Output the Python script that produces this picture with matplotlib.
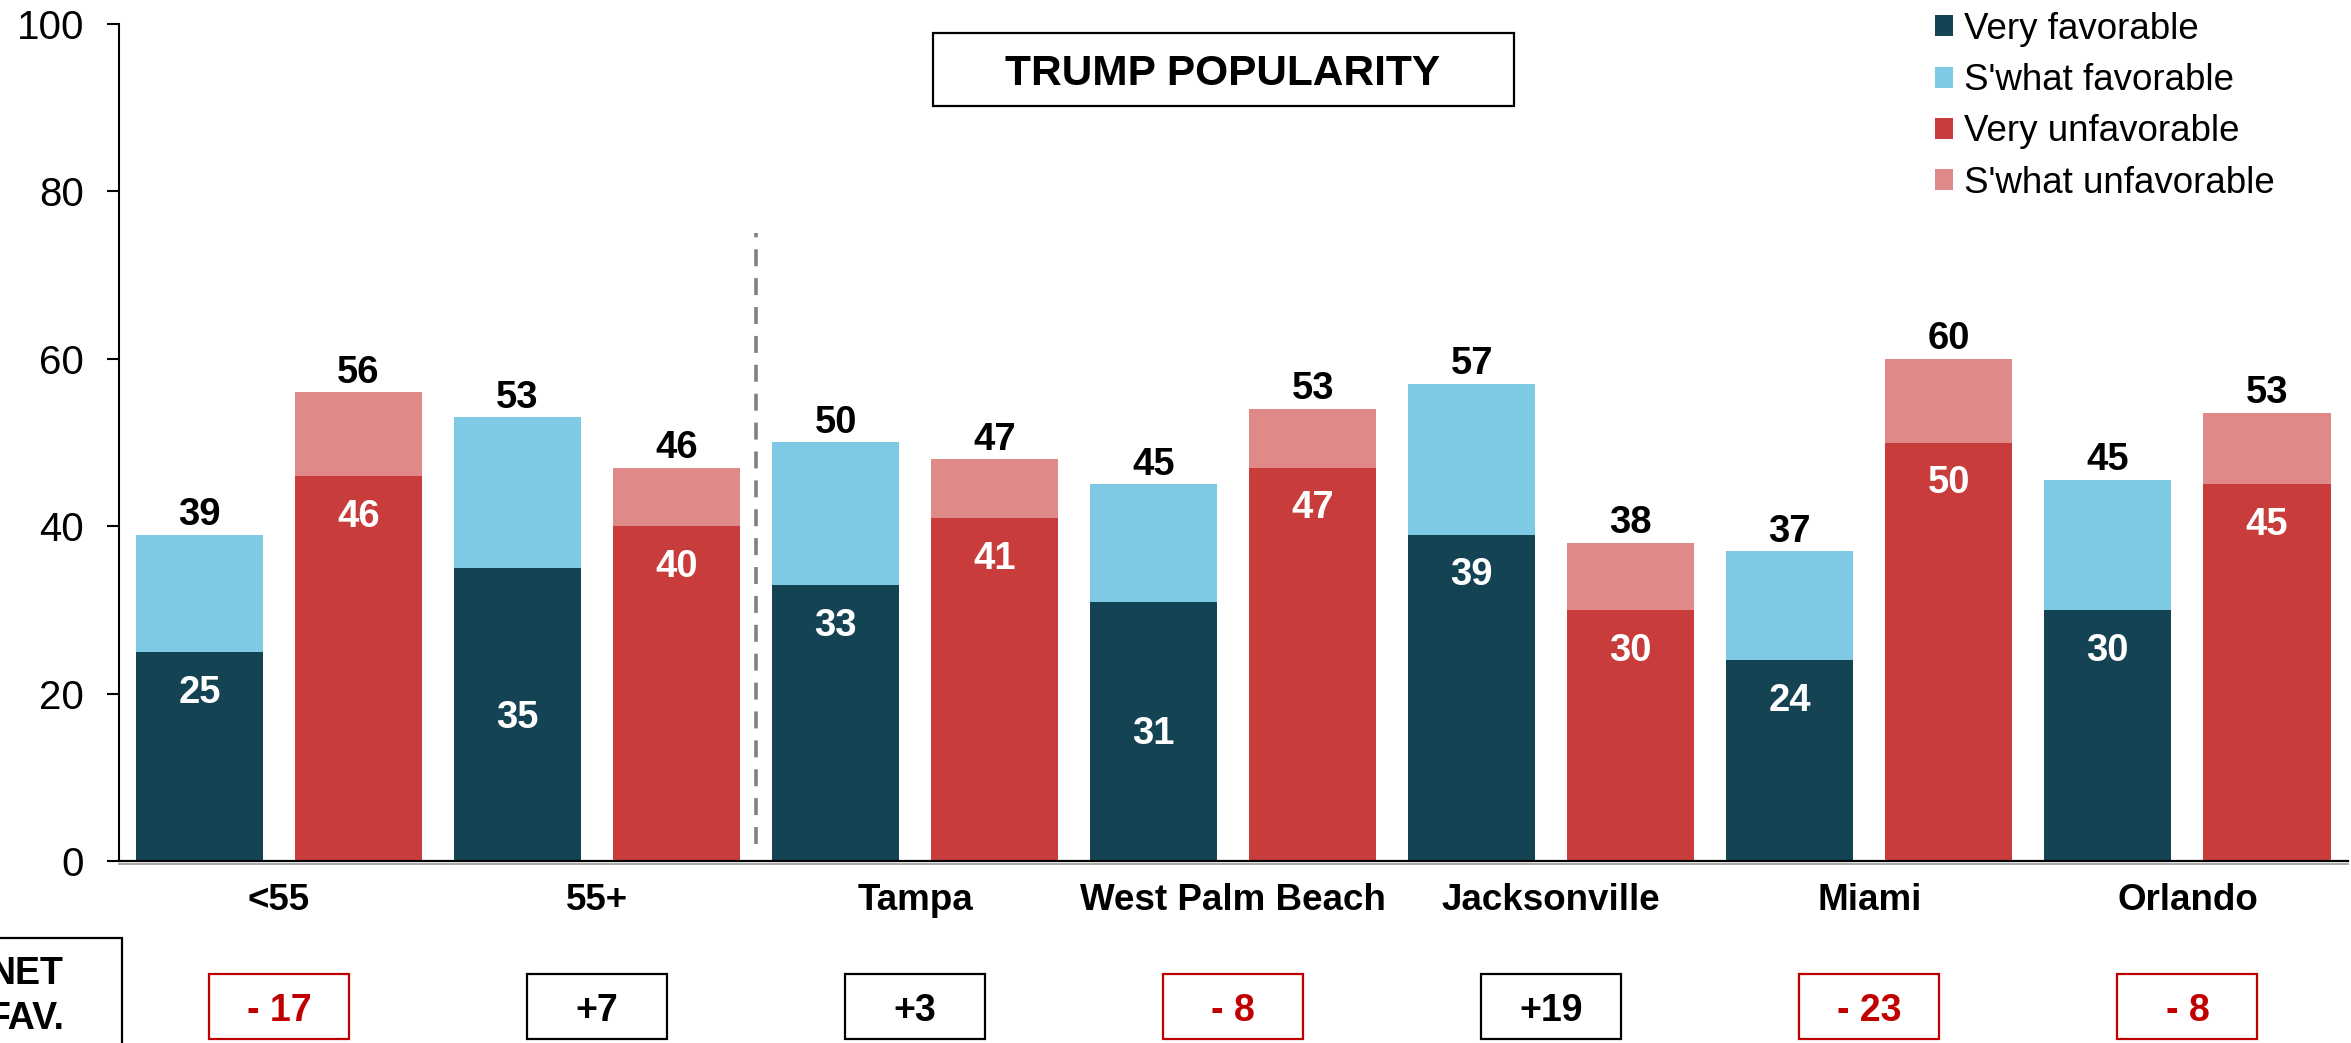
import matplotlib
matplotlib.use('Agg')
import matplotlib.pyplot as plt
from matplotlib.patches import Rectangle
from matplotlib.transforms import blended_transform_factory
import numpy as np

plt.rcParams['font.family'] = ['Liberation Sans', 'DejaVu Sans']

# ---------------- data ----------------
categories = ['<55', '55+', 'Tampa', 'West Palm Beach', 'Jacksonville', 'Miami', 'Orlando']
very_fav = [25, 35, 33, 31, 39, 24, 30]
swhat_fav = [14, 18, 17, 14, 18, 13, 15.5]
very_unfav = [46, 40, 41, 47, 30, 50, 45]
swhat_unfav = [10, 7, 7, 7, 8, 10, 8.5]
fav_total_labels = [39, 53, 50, 45, 57, 37, 45]
unfav_total_labels = [56, 46, 47, 53, 38, 60, 53]
net_fav = [-17, 7, 3, -8, 19, -23, -8]
yticks = [0, 20, 40, 60, 80, 100]
series_names = ['Very favorable', "S'what favorable", 'Very unfavorable', "S'what unfavorable"]
title = 'TRUMP POPULARITY'

# ---------------- style ----------------
DARK = '#144454'
LIGHT = '#7EC9E4'
RED = '#C83C3C'
PINK = '#DF8988'
NETRED = '#C00000'
CENTERED_INNER_FAV = {1, 3}   # groups whose inner label sits mid-bar

W, H = 2351, 1043
fig = plt.figure(figsize=(W / 100, H / 100), dpi=100)
ax = fig.add_axes([119 / W, 1 - 861 / H, (2348 - 119) / W, (861 - 24) / H])

n = len(categories)
fav_x = np.arange(n) * 2
unfav_x = fav_x + 1
bw = 0.8

ax.bar(fav_x, very_fav, bw, color=DARK, label=series_names[0])
ax.bar(fav_x, swhat_fav, bw, bottom=very_fav, color=LIGHT, label=series_names[1])
ax.bar(unfav_x, very_unfav, bw, color=RED, label=series_names[2])
ax.bar(unfav_x, swhat_unfav, bw, bottom=very_unfav, color=PINK, label=series_names[3])

ax.set_xlim(-0.506, 13.51)
ax.set_ylim(0, 100)
ax.set_yticks(yticks)
ax.set_xticks([])
for s in ['top', 'right']:
    ax.spines[s].set_visible(False)
ax.spines['left'].set_linewidth(1.5)
ax.spines['bottom'].set_linewidth(1.6)
ax.tick_params(axis='y', length=9, width=1.5, pad=16, labelsize=29)
ax.axhline(-0.3, color='#9a9a9a', lw=1.2, clip_on=False)

# dashed separator
ax.plot([3.5, 3.5], [2, 75], color='#808080', lw=2.6, dashes=(4.7, 3.3))

# value labels
for i in range(n):
    ftop = very_fav[i] + swhat_fav[i]
    utop = very_unfav[i] + swhat_unfav[i]
    ax.annotate(str(fav_total_labels[i]), (fav_x[i], ftop), xytext=(0, 7),
                textcoords='offset points', ha='center', va='baseline',
                fontsize=27.5, fontweight='bold')
    ax.annotate(str(unfav_total_labels[i]), (unfav_x[i], utop), xytext=(0, 7),
                textcoords='offset points', ha='center', va='baseline',
                fontsize=27.5, fontweight='bold')
    fy = very_fav[i] / 2 if i in CENTERED_INNER_FAV else very_fav[i] - 4.5
    uy = very_unfav[i] - 4.5
    ax.annotate(str(very_fav[i]), (fav_x[i], fy), xytext=(0, -9.5),
                textcoords='offset points', ha='center', va='baseline',
                fontsize=27.5, fontweight='bold', color='white')
    ax.annotate(str(very_unfav[i]), (unfav_x[i], uy), xytext=(0, -9.5),
                textcoords='offset points', ha='center', va='baseline',
                fontsize=27.5, fontweight='bold', color='white')

# category labels
tr_cat = blended_transform_factory(ax.transData, ax.transAxes)
group_c = fav_x + 0.5
for i, c in enumerate(categories):
    ax.text(group_c[i], (861 - 910) / 837, c, transform=tr_cat, ha='center',
            va='baseline', fontsize=26.5, fontweight='bold')

# NET FAV boxes
tr_net = blended_transform_factory(ax.transData, fig.transFigure)
box_w = 0.88
box_h = 65 / H
box_cy = 1 - 1006 / H
for i, v in enumerate(net_fav):
    col = NETRED if v < 0 else 'black'
    txt = f'- {abs(v)}' if v < 0 else f'+{v}'
    r = Rectangle((group_c[i] - box_w / 2, box_cy - box_h / 2), box_w, box_h,
                  transform=tr_net, fill=False, edgecolor=col, lw=1.6, clip_on=False)
    ax.add_patch(r)
    ax.text(group_c[i], box_cy - 15 / H, txt, transform=tr_net, ha='center',
            va='baseline', fontsize=27, fontweight='bold', color=col, clip_on=False)

# NET FAV. label box
fig.patches.append(Rectangle((-70 / W, 1 - 1060 / H), 192 / W, 122 / H,
                             transform=fig.transFigure, fill=False,
                             edgecolor='black', lw=1.6))
fig.text(26 / W, 1 - 984 / H, 'NET', ha='center', va='baseline', fontsize=27,
         fontweight='bold')
fig.text(26 / W, 1 - 1029 / H, 'FAV.', ha='center', va='baseline', fontsize=27,
         fontweight='bold')

# title box
fig.patches.append(Rectangle((933 / W, 1 - 106 / H), 581 / W, 73 / H,
                             transform=fig.transFigure, fill=False,
                             edgecolor='black', lw=1.6))
fig.text(1223 / W, 1 - 69.5 / H, title, ha='center', va='center_baseline',
         fontsize=30.5, fontweight='bold')

# legend
ax.legend(loc='upper left', bbox_to_anchor=(1935 / W, 1 - 12 / H),
          bbox_transform=fig.transFigure, frameon=False, fontsize=26.5,
          handlelength=0.5, handleheight=0.5, handletextpad=0.3,
          labelspacing=0.44, borderpad=0, borderaxespad=0)

fig.savefig('out.png', dpi=100)
